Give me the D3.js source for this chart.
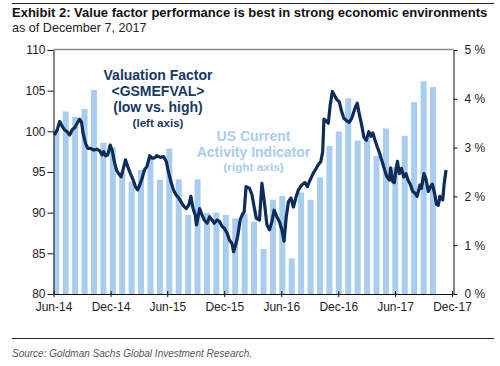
<!DOCTYPE html>
<meta charset="utf-8">
<style>

body {
  margin: 0;
  background: #fff;
}

text {
  font-family: "Liberation Sans", Arial, sans-serif;
}

.axis text {
  font-size: 12px;
  fill: #222;
}

.axis path,
.axis line {
  stroke: #111;
}

</style>
<body>
<script src="https://cdn.jsdelivr.net/npm/d3@7"></script>
<script>

// US Current Activity Indicator, monthly (right axis, %)
var barMonths = [
  "2014-06","2014-07","2014-08","2014-09","2014-10","2014-11","2014-12",
  "2015-01","2015-02","2015-03","2015-04","2015-05","2015-06","2015-07","2015-08","2015-09","2015-10","2015-11","2015-12",
  "2016-01","2016-02","2016-03","2016-04","2016-05","2016-06","2016-07","2016-08","2016-09","2016-10","2016-11","2016-12",
  "2017-01","2017-02","2017-03","2017-04","2017-05","2017-06","2017-07","2017-08","2017-09","2017-10"
];
var activity = [
  3.35, 3.74, 3.63, 3.79, 4.18, 3.10, 3.00,
  2.50, 2.30, 2.54, 2.75, 2.34, 2.98, 2.35, 1.62, 2.35, 1.66, 1.67, 1.62,
  1.55, 1.65, 1.48, 0.92, 1.93, 2.01, 0.73, 2.08, 1.93, 2.39, 3.03, 3.33,
  4.01, 3.14, 3.20, 2.83, 3.39, 2.60, 3.24, 3.93, 4.36, 4.24
];

// Valuation factor <GSMEFVAL> (left axis)
var factorDates = [
  "2014-06-04","2014-06-13","2014-06-21","2014-06-29","2014-07-06","2014-07-15","2014-07-23","2014-07-31",
  "2014-08-07","2014-08-16","2014-08-24","2014-08-30","2014-09-04","2014-09-12","2014-09-19","2014-09-28",
  "2014-10-08","2014-10-19","2014-10-27","2014-11-04","2014-11-09","2014-11-15","2014-11-22","2014-11-30",
  "2014-12-06","2014-12-13","2014-12-20","2014-12-27","2015-01-04","2015-01-10","2015-01-18","2015-01-25",
  "2015-02-03","2015-02-12","2015-02-19","2015-02-26","2015-03-05","2015-03-12","2015-03-20","2015-03-28",
  "2015-04-06","2015-04-13","2015-04-19","2015-04-29","2015-05-10","2015-05-20","2015-05-29","2015-06-05",
  "2015-06-13","2015-06-21","2015-06-29","2015-07-08","2015-07-15","2015-07-24","2015-08-01","2015-08-09",
  "2015-08-16","2015-08-23","2015-08-30","2015-09-03","2015-09-13","2015-09-21","2015-09-28","2015-10-07",
  "2015-10-15","2015-10-23","2015-10-30","2015-11-08","2015-11-16","2015-11-24","2015-12-01","2015-12-10",
  "2015-12-18","2015-12-26","2015-12-31","2016-01-05","2016-01-13","2016-01-21","2016-01-30","2016-02-03",
  "2016-02-09","2016-02-20","2016-02-28","2016-03-06","2016-03-13","2016-03-23","2016-03-31","2016-04-07",
  "2016-04-16","2016-04-24","2016-05-02","2016-05-09","2016-05-18","2016-05-26","2016-06-03","2016-06-10",
  "2016-06-17","2016-06-24","2016-07-02","2016-07-10","2016-07-19","2016-07-26","2016-08-06","2016-08-16",
  "2016-08-24","2016-08-30","2016-09-11","2016-09-18","2016-09-28","2016-10-06","2016-10-12","2016-10-16",
  "2016-10-22","2016-10-30","2016-11-05","2016-11-12","2016-11-19","2016-11-26","2016-12-04","2016-12-12",
  "2016-12-19","2016-12-28","2017-01-05","2017-01-13","2017-01-19","2017-01-25","2017-01-31","2017-02-06",
  "2017-02-14","2017-02-21","2017-03-01","2017-03-09","2017-03-16","2017-03-22","2017-03-29","2017-04-05",
  "2017-04-11","2017-04-19","2017-04-27","2017-05-05","2017-05-14","2017-05-18","2017-05-25","2017-05-30",
  "2017-06-05","2017-06-09","2017-06-15","2017-06-22","2017-06-29","2017-07-06","2017-07-13","2017-07-21",
  "2017-07-28","2017-08-04","2017-08-11","2017-08-20","2017-08-25","2017-09-02","2017-09-08","2017-09-16",
  "2017-09-23","2017-09-29","2017-10-07","2017-10-12","2017-10-18","2017-10-23","2017-11-01","2017-11-06",
  "2017-11-12"
];
var factorValues = [
  99.55, 100.2, 101.2, 100.6, 100.2, 99.95, 99.55, 100.2,
  100.4, 101.0, 101.5, 101.1, 99.75, 98.5, 97.9, 97.9,
  97.7, 97.8, 97.6, 97.1, 97.5, 97.0, 97.1, 98.3,
  97.7, 96.3, 95.25, 94.8, 94.4, 95.25, 96.5, 95.7,
  94.8, 94.0, 93.2, 92.8, 93.4, 94.2, 95.25, 95.7,
  97.0, 96.7, 96.7, 97.0, 96.8, 96.9, 96.3, 95.0,
  93.8, 92.8, 92.2, 91.8, 91.35, 90.8, 90.5, 90.9,
  92.0, 90.5, 89.7, 88.5, 90.5, 89.7, 89.1, 88.7,
  89.5, 89.1, 88.7, 89.1, 88.9, 88.3, 88.1, 87.5,
  86.6, 86.2, 85.2, 85.8, 87.05, 89.1, 89.9, 90.1,
  93.2, 93.0, 92.2, 90.7, 89.3, 89.1, 93.6, 91.55,
  88.5, 87.9, 88.9, 90.3, 89.5, 88.9, 87.9, 86.5,
  89.5, 91.35, 91.8, 90.7, 92.0, 92.8, 93.4, 93.7,
  93.2, 93.8, 94.8, 95.25, 95.9, 96.3, 97.5, 101.5,
  101.3, 101.0, 103.2, 104.9, 104.4, 103.9, 103.65, 102.4,
  101.6, 101.3, 101.1, 101.6, 102.3, 103.0, 103.45, 102.2,
  100.8, 99.3, 98.9, 99.95, 99.4, 99.8, 98.9, 98.1,
  97.5, 96.5, 95.5, 94.5, 94.0, 95.5, 93.8, 93.7,
  95.5, 96.3, 94.8, 95.45, 94.4, 94.8, 94.0, 93.4,
  92.6, 92.4, 92.0, 93.4, 93.0, 94.8, 94.2, 92.6,
  93.2, 93.5, 92.2, 91.05, 90.9, 92.0, 91.55, 93.6,
  95.25
];

var xTickDates = ["2014-06-01","2014-12-01","2015-06-01","2015-12-01","2016-06-01","2016-12-01","2017-06-01","2017-12-01"];
var xTickLabels = ["Jun-14","Dec-14","Jun-15","Dec-15","Jun-16","Dec-16","Jun-17","Dec-17"];
var leftTicks = [80, 85, 90, 95, 100, 105, 110];
var rightTicks = [0, 1, 2, 3, 4, 5];

var width = 500,
	height = 366,
	plotLeft = 53.5,
	plotRight = 453.5,
	plotTop = 50,
	plotBottom = 294,
	navy = "#0c2c5a",
	lightBlue = "#a9cdee";

var parseDay = d3.timeParse("%Y-%m-%d");

var svg = d3.select("body").append("svg")
	.attr("width", width)
	.attr("height", height)
	.style("display", "block");

var x = d3.scaleTime()
	.domain([parseDay("2014-06-01"), parseDay("2017-12-01")])
	.range([plotLeft, plotRight - 1.5]);

// monthly bars sit evenly spaced, a little inside each month
var xBar = d3.scalePoint()
	.domain(barMonths)
	.range([x(parseDay("2014-06-10")), x(parseDay("2017-10-01"))]);

var yLeft = d3.scaleLinear().domain([80, 110]).range([plotBottom, plotTop]);
var yRight = d3.scaleLinear().domain([0, 5]).range([plotBottom, plotTop]);

// header
svg.append("line")
	.attr("x1", 12).attr("x2", 494)
	.attr("y1", 3.5).attr("y2", 3.5)
	.attr("stroke", "#222").attr("stroke-width", 1.2);

svg.append("text")
	.attr("x", 12).attr("y", 17)
	.style("font-size", "13px").style("font-weight", "bold")
	.attr("fill", "#111")
	.text("Exhibit 2: Value factor performance is best in strong economic environments");

svg.append("text")
	.attr("x", 12).attr("y", 31.5)
	.style("font-size", "12.6px")
	.attr("fill", "#222")
	.text("as of December 7, 2017");

// bars
var barW = 6;
svg.append("g").selectAll("rect")
	.data(activity)
	.enter().append("rect")
	.attr("x", function(d, i) { return xBar(barMonths[i]) - barW / 2; })
	.attr("y", function(d) { return yRight(d); })
	.attr("width", barW)
	.attr("height", function(d) { return plotBottom - yRight(d); })
	.attr("fill", lightBlue);

// line
var line = d3.line()
	.x(function(d, i) { return x(parseDay(factorDates[i])); })
	.y(function(d) { return yLeft(d); });

svg.append("path")
	.datum(factorValues)
	.attr("fill", "none")
	.attr("stroke", navy)
	.attr("stroke-width", 3.2)
	.attr("stroke-linejoin", "round")
	.attr("d", line);

// frame top (gray)
svg.append("line")
	.attr("x1", plotLeft).attr("x2", plotRight)
	.attr("y1", plotTop - 0.5).attr("y2", plotTop - 0.5)
	.attr("stroke", "#8a8a8a").attr("stroke-width", 1.5);

// axes
svg.append("g")
	.attr("class", "axis")
	.attr("transform", "translate(" + plotLeft + ",0)")
	.call(d3.axisLeft(yLeft).tickValues(leftTicks).tickSize(6).tickSizeOuter(0).tickPadding(2));

svg.append("g")
	.attr("class", "axis")
	.attr("transform", "translate(" + plotRight + ",0)")
	.call(d3.axisRight(yRight).tickValues(rightTicks).tickSize(4).tickSizeOuter(0).tickPadding(7)
		.tickFormat(function(d) { return d + " %"; }));

var gx = svg.append("g")
	.attr("class", "axis")
	.attr("transform", "translate(0," + plotBottom + ")")
	.call(d3.axisBottom(x).tickValues(xTickDates.map(parseDay)).tickSize(4).tickSizeOuter(0).tickPadding(4.5)
		.tickFormat(function(d, i) { return xTickLabels[i]; }));
gx.selectAll(".tick line").attr("y1", -3).attr("y2", 3);
gx.select(".domain").attr("d", "M" + plotLeft + ",0.5H" + plotRight);

// annotations
var factorNote = [
	{t: "Valuation Factor", y: 79.5, s: 14},
	{t: "<GSMEFVAL>", y: 95.5, s: 14},
	{t: "(low vs. high)", y: 111.5, s: 14},
	{t: "(left axis)", y: 126.5, s: 11.6}
];
svg.append("g").selectAll("text")
	.data(factorNote)
	.enter().append("text")
	.attr("x", 158).attr("y", function(d) { return d.y; })
	.attr("text-anchor", "middle")
	.style("font-size", function(d) { return d.s + "px"; })
	.style("font-weight", "bold")
	.attr("fill", "#173865")
	.text(function(d) { return d.t; });

var activityNote = [
	{t: "US Current", y: 140.5, s: 14},
	{t: "Activity Indicator", y: 156.5, s: 14},
	{t: "(right axis)", y: 170.5, s: 11.8}
];
svg.append("g").selectAll("text")
	.data(activityNote)
	.enter().append("text")
	.attr("x", 253.5).attr("y", function(d) { return d.y; })
	.attr("text-anchor", "middle")
	.style("font-size", function(d) { return d.s + "px"; })
	.style("font-weight", "bold")
	.attr("fill", lightBlue)
	.text(function(d) { return d.t; });

// footer
svg.append("line")
	.attr("x1", 12).attr("x2", 494)
	.attr("y1", 338.5).attr("y2", 338.5)
	.attr("stroke", "#222").attr("stroke-width", 1);

svg.append("text")
	.attr("x", 12).attr("y", 357)
	.style("font-size", "10px").style("font-style", "italic")
	.attr("fill", "#555")
	.text("Source: Goldman Sachs Global Investment Research.");

</script>
</body>
</html>
